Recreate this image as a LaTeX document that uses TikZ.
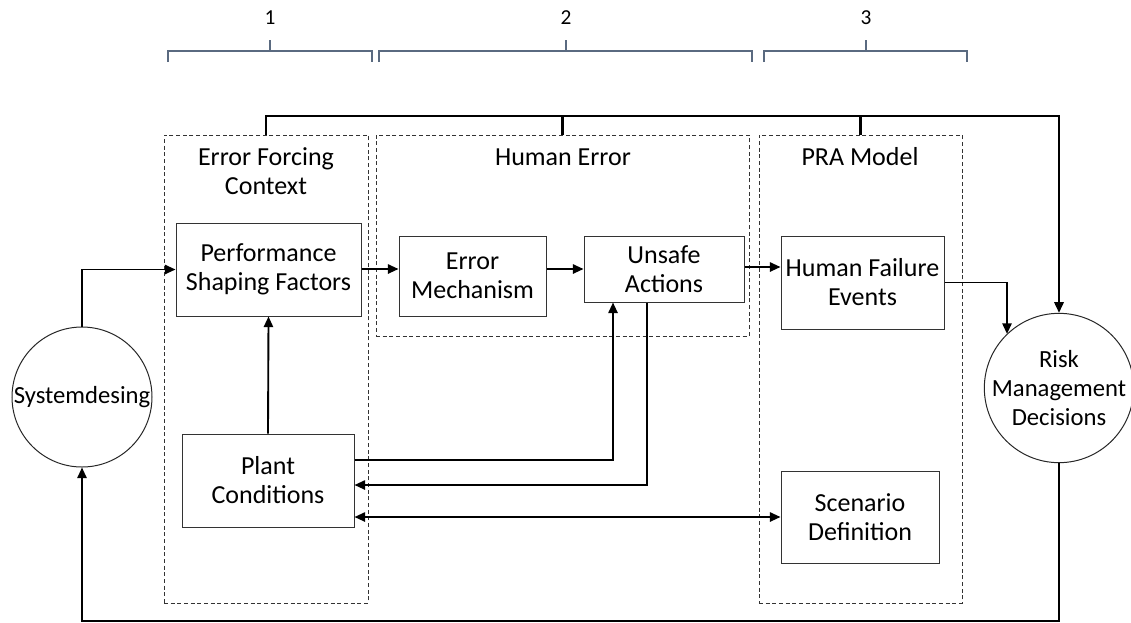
\documentclass[tikz,border=0pt]{standalone}
\usepackage{fontspec}
\setmainfont{Carlito}
\usetikzlibrary{arrows.meta}
\begin{document}
\begin{tikzpicture}[x=0.75pt,y=-0.75pt,
  txt/.style={font=\fontsize{19.5}{21.75}\selectfont, align=center},
  ctxt/.style={font=\fontsize{18.5}{21.75}\selectfont, align=center},
  box/.style={draw=black!80, line width=0.75pt, fill=white, txt, inner sep=2pt},
  group/.style={draw=black!80, line width=0.7pt, dash pattern=on 3pt off 2pt},
  ring/.style={circle, draw=black!85, line width=0.75pt, inner sep=0pt},
  conn/.style={line width=1.4pt, line join=miter},
  arr/.style={conn, -{Triangle[length=8pt,width=7pt]}},
  arrb/.style={conn, {Triangle[length=8pt,width=7pt]}-{Triangle[length=8pt,width=7pt]}},
  brace/.style={draw=brcol, line width=0.9pt},
  num/.style={font=\fontsize{16}{18}\selectfont}
]
\definecolor{brcol}{HTML}{5A6A80}
\useasboundingbox (0,0) rectangle (1131,622);

% phase brackets
\draw[brace] (168,62) -- (168,51) -- (372,51) -- (372,62) (270,51) -- (270,40);
\draw[brace] (379,62) -- (379,51) -- (752,51) -- (752,62) (566,51) -- (566,40);
\draw[brace] (764,62) -- (764,51) -- (967,51) -- (967,62) (866,51) -- (866,40);
\node[num] (n1) at (270,18) {1};
\node[num] (n2) at (566,18) {2};
\node[num] (n3) at (866,18) {3};

% dashed groups
\node[group, minimum width=153pt, minimum height=351pt] (efc) at (266,369) {};
\node[group, minimum width=279.75pt, minimum height=150.75pt] (he) at (562.5,235.5) {};
\node[group, minimum width=152.25pt, minimum height=351pt] (pra) at (860.5,369) {};
\node[txt] (efct) at (266,171) {Error Forcing\\Context};
\node[txt] (het) at (563,157) {Human Error};
\node[txt] (prat) at (860,157) {PRA Model};

% blocks
\node[box, minimum width=138.75pt, minimum height=69.75pt] (psf) at (268.5,269.5) {Performance\\Shaping Factors};
\node[box, minimum width=110.25pt, minimum height=60pt] (em) at (472.5,276) {Error\\Mechanism};
\node[box, minimum width=120pt, minimum height=49.5pt] (ua) at (664,269) {Unsafe\\Actions};
\node[box, minimum width=122.25pt, minimum height=69.75pt] (hfe) at (862.5,282.5) {Human Failure\\Events};
\node[box, minimum width=118.5pt, minimum height=69pt] (scen) at (860,517) {Scenario\\Definition};
\node[box, minimum width=129pt, minimum height=69.75pt] (plant) at (268,480.5) {Plant\\Conditions};

% circles (fixed size, text set on top)
\node[ring, minimum size=105pt] (sys) at (82,397) {};
\node[ctxt] (syst) at (sys.center) {Systemdesing};
\node[ring, minimum size=112pt] (risk) at (1059,388) {};
\node[ctxt] (riskt) at (risk.center) {Risk\\Management\\Decisions};

% feedback from the three groups to risk decisions
\coordinate (topL) at (266,116);
\coordinate (topR) at (1059,116);
\draw[arr, line width=1.6pt] (efc.north) -- (topL) -- (topR) -- (risk.north);
\draw[conn, line width=1.6pt] (he.north) -- (he.north |- topL);
\draw[conn, line width=1.6pt] (pra.north) -- (pra.north |- topL);

% main chain
\draw[arr] (sys.north) |- (psf.west);
\draw[arr] (plant.north) -- (psf.south);
\draw[arr] (psf.east |- ua.west) -- (em.west |- ua.west);
\draw[arr] (em.east |- ua.west) -- (ua.west);
\draw[arr] (ua.east |- 0,267) -- (hfe.west |- 0,267);
\coordinate (hc) at (1007,282.5);
\draw[arr] (hfe.east) -- (hc) -- (hc |- risk.134);

% plant conditions links
\draw[arr] (plant.east |- 0,460) -| (ua.south -| 613,0);
\draw[arr] (ua.south -| 647,0) |- (plant.east |- 0,485);
\draw[arrb] (plant.east |- scen.west) -- (scen.west);

% loop back to system design
\coordinate (bR) at (1059,621);
\coordinate (bL) at (82,621);
\draw[arr] (risk.south) -- (bR) -- (bL) -- (sys.south);
\end{tikzpicture}
\end{document}
